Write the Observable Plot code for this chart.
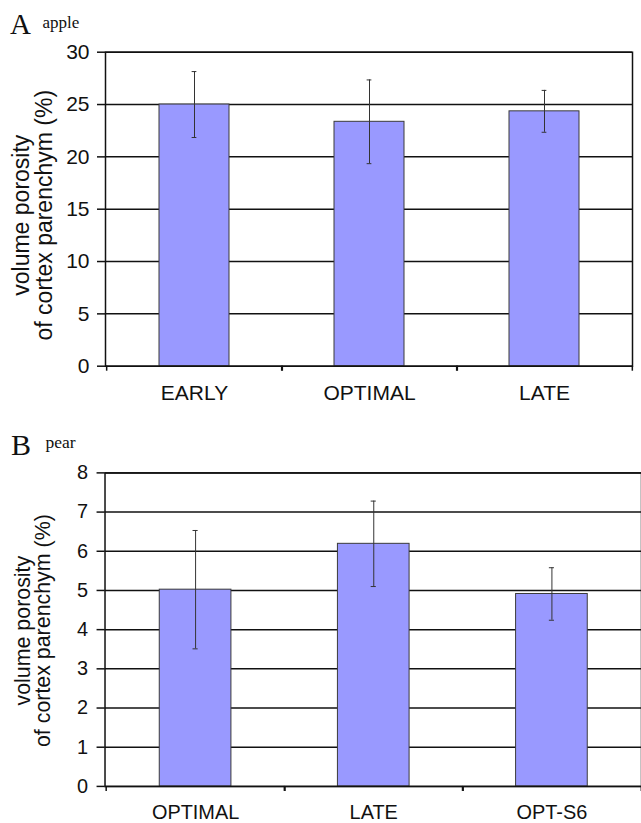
<!DOCTYPE html>
<html><head><meta charset="utf-8">
<script src="https://cdn.jsdelivr.net/npm/d3@7"></script>
<script src="https://cdn.jsdelivr.net/npm/@observablehq/plot@0.6"></script>
<style>
html,body{margin:0;padding:0;background:#fff;overflow:hidden;}
#wrap{position:relative;width:641px;height:823px;overflow:hidden;background:#fff;}
.panel{position:absolute;left:0;}
.lbl{position:absolute;font-family:"Liberation Serif","Times New Roman",serif;color:#111;white-space:nowrap;line-height:1;}
</style></head><body>
<div id="wrap">
  <div id="a" class="panel" style="top:0px"></div>
  <div id="b" class="panel" style="top:405px"></div>
  <span class="lbl" style="left:10px;top:9.7px;font-size:29px">A</span>
  <span class="lbl" style="left:42.5px;top:14.3px;font-size:17px">apple</span>
  <span class="lbl" style="left:11px;top:430px;font-size:30px">B</span>
  <span class="lbl" style="left:45.5px;top:433.6px;font-size:17.5px">pear</span>
</div>
<script>
const appleCats = ["EARLY", "OPTIMAL", "LATE"];
const appleMean = [25.0, 23.35, 24.35];
const appleErr = [3.15, 4.0, 2.0];
const appleTicks = [0, 5, 10, 15, 20, 25, 30];

const pearCats = ["OPTIMAL", "LATE", "OPT-S6"];
const pearMean = [5.02, 6.19, 4.91];
const pearErr = [1.51, 1.09, 0.67];
const pearTicks = [0, 1, 2, 3, 4, 5, 6, 7, 8];

const yLabel = "volume porosity\nof cortex parenchym (%)";

function panel({cats, mean, err, ticks, width, height, mt, mb, ml, mr, tickFont, labelFont, labelDy, yPad}) {
  const data = cats.map((c, i) => ({cat: c, v: mean[i], lo: mean[i] - err[i], hi: mean[i] + err[i]}));
  const step = (width - ml - mr) / cats.length;
  const bw = step * 0.4;
  const capInset = (bw - 5) / 2;
  const ink = "#111";
  return Plot.plot({
    width, height,
    marginTop: mt, marginBottom: mb, marginLeft: ml, marginRight: mr,
    style: {fontFamily: "'Liberation Sans', Arial, sans-serif", background: "white", color: ink, overflow: "visible"},
    x: {domain: cats, paddingInner: 0.6, paddingOuter: 0.3, label: null, axis: null},
    y: {domain: [ticks[0], ticks[ticks.length - 1]], label: null, axis: null},
    marks: [
      Plot.ruleY(ticks, {stroke: ink, strokeWidth: 1.5}),
      Plot.barY(data, {x: "cat", y: "v", fill: "#9999ff", stroke: "#3a3a3a", strokeWidth: 1}),
      Plot.ruleX(data, {x: "cat", y1: "lo", y2: "hi", stroke: "#333", strokeWidth: 1}),
      Plot.tickY(data, {x: "cat", y: "lo", stroke: "#333", strokeWidth: 1, insetLeft: capInset, insetRight: capInset}),
      Plot.tickY(data, {x: "cat", y: "hi", stroke: "#333", strokeWidth: 1, insetLeft: capInset, insetRight: capInset}),
      Plot.frame({stroke: ink, strokeWidth: 1.5}),
      Plot.axisY(ticks, {tickSize: 8, tickPadding: yPad, fontSize: tickFont, strokeWidth: 1.5, label: null}),
      Plot.axisX({tickSize: 0, tickPadding: 19, fontSize: tickFont, label: null}),
      Plot.axisX({tickSize: 5, dx: step / 2, strokeWidth: 1.5, tickFormat: () => "", label: null}),
      Plot.axisX({tickSize: 5, dx: -step / 2, strokeWidth: 1.5, tickFormat: () => "", label: null}),
      Plot.text([yLabel], {text: d => d, frameAnchor: "left", rotate: -90, dx: -72, dy: labelDy,
        fontSize: labelFont, lineHeight: 0.97, lineAnchor: "middle", textAnchor: "middle", fill: ink})
    ]
  });
}

document.getElementById("a").append(panel({
  cats: appleCats, mean: appleMean, err: appleErr, ticks: appleTicks,
  width: 641, height: 405, mt: 51.7, mb: 39.3, ml: 105, mr: 9,
  tickFont: 21, labelFont: 23, labelDy: 6, yPad: 8
}));
document.getElementById("b").append(panel({
  cats: pearCats, mean: pearMean, err: pearErr, ticks: pearTicks,
  width: 644, height: 418, mt: 67.7, mb: 35.3, ml: 105, mr: 0,
  tickFont: 20, labelFont: 21.5, labelDy: 1, yPad: 9
}));
</script>
</body></html>
